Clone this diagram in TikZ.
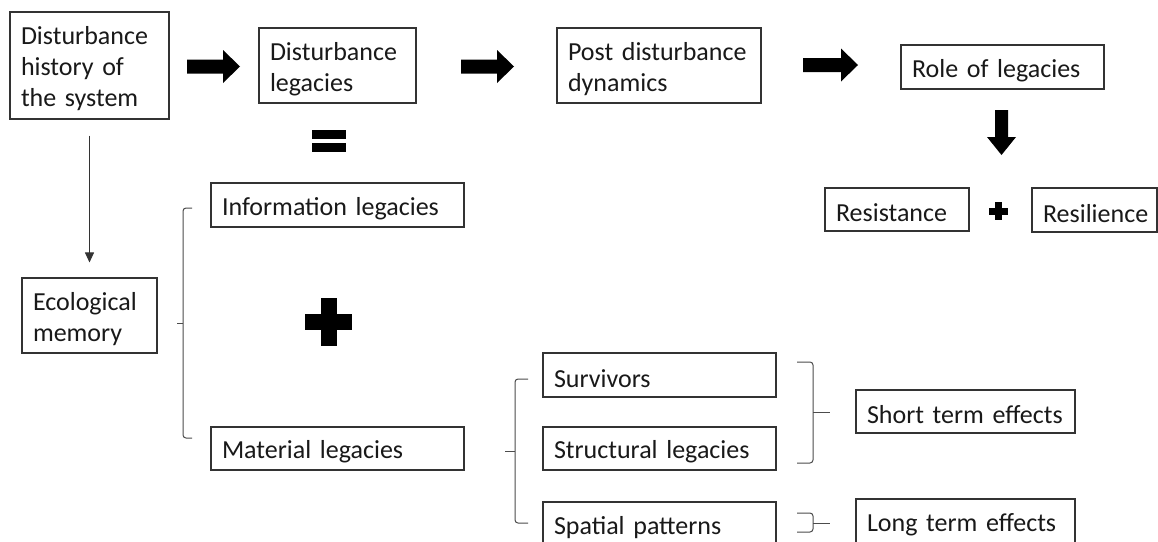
\documentclass[tikz,border=0pt]{standalone}
\usepackage{fontspec}
\setmainfont{Carlito}
\usetikzlibrary{arrows.meta}

% filled block arrow pointing right: from x=#1 to x=#2 at height #3
\newcommand{\rightblock}[3]{%
  \fill (#1,#3-7) -- (#2-17,#3-7) -- (#2-17,#3-16.5) -- (#2,#3)
    -- (#2-17,#3+16.5) -- (#2-17,#3+7) -- (#1,#3+7) -- cycle;}

\tikzset{
  box/.style={draw=black!80, line width=1.1pt, inner xsep=11pt, inner ysep=0pt,
    align=left, font=\fontsize{26}{31}\selectfont, text=black!90,
    execute at begin node={\rule{0pt}{25pt}}},
  brace/.style={draw=black!70, line width=1pt, rounded corners=3pt},
}

\begin{document}
\begin{tikzpicture}[x=1pt, y=-1pt]
\clip (0,0) rectangle (1158,541);
\fill[white] (0,0) rectangle (1158,541);

% top row
\node[box, text width=137pt, minimum height=107pt] (hist) at (89.5,65.5)
  {Disturbance\\history of\\the system};
\node[box, text width=135pt, minimum height=75pt] (leg) at (337.5,65.5)
  {Disturbance\\legacies};
\node[box, text width=182pt, minimum height=75pt] (post) at (659,65.5)
  {Post disturbance\\dynamics};
\node[box, text width=181pt, minimum height=44pt] (role) at (1002.5,67)
  {Role of legacies};
\node[box, text width=122pt, minimum height=43pt] (resist) at (897,209.5)
  {Resistance};
\node[box, text width=103pt, minimum height=44pt] (resil) at (1094.5,210)
  {Resilience};

% ecological memory branch
\node[box, text width=113pt, minimum height=75pt] (eco) at (89.5,315.5)
  {Ecological\\memory};
\node[box, text width=231pt, minimum height=44pt] (info) at (337.5,205)
  {Information legacies};
\node[box, text width=231pt, minimum height=43pt] (mat) at (337.5,448.5)
  {Material legacies};

% material legacies branch
\node[box, text width=211pt, minimum height=44pt] (surv) at (659.5,375)
  {Survivors};
\node[box, text width=211pt, minimum height=43pt] (struct) at (659.5,448.5)
  {Structural legacies};
\node[box, text width=211pt, minimum height=44pt] (spat) at (659.5,524)
  {Spatial patterns};
\node[box, text width=197pt, minimum height=43pt] (short) at (965.5,411.5)
  {Short term effects};
\node[box, text width=197pt, minimum height=44pt] (long) at (965.5,521)
  {Long term effects};

% block arrows along the top row
\rightblock{187}{240}{66.5}
\rightblock{461}{514}{66.5}
\rightblock{803}{858}{65}
\fill (995,110) -- (1008,110) -- (1008,137) -- (1016,137) -- (1001.5,155)
  -- (987,137) -- (995,137) -- cycle;

% equals sign under the legacies box
\fill (312,130) rectangle (346,139);
\fill (312,143) rectangle (346,152);

% plus signs
\fill (321,298) rectangle (337,346);
\fill (305,314) rectangle (352,330);
\fill (995,202) rectangle (1002,220);
\fill (989,207.5) rectangle (1008,214.5);

% thin arrow to ecological memory
\draw[line width=1pt, black!80, -{Triangle[width=9pt,length=10pt]}]
  ([yshift=-16pt]hist.south) -- ([yshift=15pt]eco.north);

% braces
\draw[brace] (192,208) -- (183,208) -- (183,438) -- (192,438);
\draw[brace] (183,323) -- (177,323);

\draw[brace] (528,379) -- (515,379) -- (515,523) -- (528,523);
\draw[brace] (515,451) -- (505,451);

\draw[brace] (797,362) -- (813,362) -- (813,463) -- (797,463);
\draw[brace] (813,412) -- (830,412);

\draw[brace] (797,513) -- (813,513) -- (813,532) -- (797,532);
\draw[brace] (813,523) -- (830,523);
\end{tikzpicture}
\end{document}
